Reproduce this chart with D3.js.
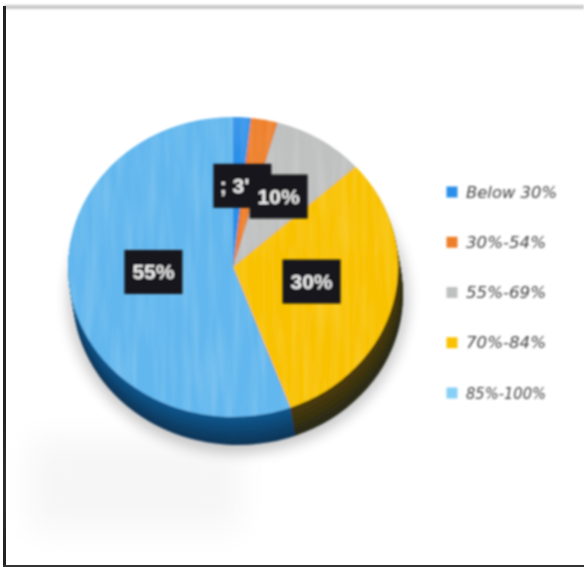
<!DOCTYPE html>
<html><head><meta charset="utf-8">
<script src="https://cdn.jsdelivr.net/npm/d3@7"></script>
<style>html,body{margin:0;padding:0;background:#fff}svg{display:block}</style>
</head><body><div id="c"></div>
<script>
const categories = ["Below 30%","30%-54%","55%-69%","70%-84%","85%-100%"];
const values = [2,3,10,30,55];
const topColors = ["#2b8fe8","#ee7f2a","#bfc1c0","#f9c202","#62b7ee"];
const sideColors = ["#1a5a90","#8a4a15","#6e6e6e","#4f3d06","#12588f"];
const dataLabels = ["","; 3'","10%","30%","55%"];

const W=584,H=567, cx=233, cy=267, rx=165, ry=150, depth=28, skew=5;
const svg=d3.select("#c").append("svg").attr("width",W).attr("height",H);
const defs=svg.append("defs");
const blur=(id,s)=>defs.append("filter").attr("id",id).attr("x","-30%").attr("y","-30%").attr("width","160%").attr("height","160%")
  .append("feGaussianBlur").attr("stdDeviation",s);
blur("b1",1.0); blur("b2",0.9); blur("b8",7); blur("b0",1.0); blur("b16",16);
// printed-paper streak texture
const tex=defs.append("filter").attr("id","streak").attr("x",0).attr("y",0).attr("width","100%").attr("height","100%");
tex.append("feTurbulence").attr("type","fractalNoise").attr("baseFrequency","0.12 0.012").attr("numOctaves",2).attr("seed",4);
tex.append("feColorMatrix").attr("type","matrix").attr("values","0 0 0 0 1  0 0 0 0 1  0 0 0 0 1  1.6 0 0 0 -0.62");
const clip=defs.append("clipPath").attr("id","faceClip");
clip.append("ellipse").attr("cx",cx).attr("cy",cy).attr("rx",rx).attr("ry",ry);

svg.append("rect").attr("width",W).attr("height",H).attr("fill","#fff");
// scanned-paper edges
svg.append("rect").attr("x",4).attr("y",5).attr("width",W-4).attr("height",4).attr("fill","#c9c9c9").attr("filter","url(#b1)");
svg.append("rect").attr("x",3).attr("y",6).attr("width",3).attr("height",H-6).attr("fill","#222");
svg.append("rect").attr("x",3).attr("y",H-2).attr("width",W-3).attr("height",2).attr("fill","#333");
// soft paper shading at lower-left
svg.append("rect").attr("x",30).attr("y",440).attr("width",210).attr("height",90).attr("fill","#f6f6f6").attr("filter","url(#b16)");

// tilted view: angles on the disc are foreshortened by perspective
const tilt=7.5*Math.PI/180;
const warp=a=>a-tilt*Math.sin(a);
const pie=d3.pie().value(d=>d).sort(null);
const arcs=pie(values).map(d=>({...d,startAngle:warp(d.startAngle),endAngle:warp(d.endAngle)}));
const arc=d3.arc().innerRadius(0).outerRadius(rx);
const labelArc=d3.arc().innerRadius(rx*0.98).outerRadius(rx*0.98);
const yr=ry/rx;

// soft ground shadow
svg.append("ellipse").attr("cx",cx+skew).attr("cy",cy+depth+3).attr("rx",rx+5).attr("ry",ry+5)
  .attr("fill","#000").attr("opacity",0.22).attr("filter","url(#b8)");

const pieG=svg.append("g").attr("filter","url(#b2)");
// extruded rim
d3.range(depth,0,-1).forEach(k=>{
  const t=k/depth;
  pieG.append("g").attr("transform",`translate(${cx+skew*t},${cy+k}) scale(1,${yr})`)
    .selectAll("path").data(arcs).join("path").attr("d",arc)
    .attr("fill",(d,i)=>d3.interpolateRgb(sideColors[i],"#06192a")(i===4||i===3?t*0.55:0));
});
// top face
pieG.append("g").attr("transform",`translate(${cx},${cy}) scale(1,${yr})`)
  .selectAll("path").data(arcs).join("path").attr("d",arc).attr("fill",(d,i)=>topColors[i]);
pieG.append("g").attr("clip-path","url(#faceClip)")
  .append("rect").attr("x",cx-rx).attr("y",cy-ry).attr("width",2*rx).attr("height",2*ry)
  .attr("filter","url(#streak)").attr("opacity",0.2);

// data labels
const labG=svg.append("g").attr("filter","url(#b1)");
const nudge=[[0,0],[-6,-9],[3,-8],[0,-3],[0,-8]];
const textDx=[0,-8,0,0,0];
const bw=58,bh=44;
arcs.forEach((d,i)=>{
  if(!dataLabels[i]) return;
  const [mx,my]=labelArc.centroid(d);
  const x=cx+mx*0.5+nudge[i][0], y=cy+my*0.5*yr+nudge[i][1];
  const g=labG.append("g").attr("transform",`translate(${x},${y})`);
  g.append("rect").attr("x",-bw/2).attr("y",-bh/2).attr("width",bw).attr("height",bh).attr("fill","#17171a");
  g.append("text").attr("text-anchor","middle").attr("x",textDx[i]).attr("y",7).attr("fill","#f0f0f0")
   .attr("font-family","Liberation Sans, Arial, sans-serif").attr("font-size",21).attr("font-weight","bold")
   .text(dataLabels[i]);
});

// legend
const legY=d3.scalePoint().domain(categories).range([192,393]);
const leg=svg.append("g").attr("filter","url(#b0)");
const legG=leg.selectAll("g").data(categories).join("g").attr("transform",d=>`translate(452,${legY(d)})`);
legG.append("rect").attr("x",-5.5).attr("y",-5.5).attr("width",11).attr("height",11).attr("fill",(d,i)=>i===4?"#86d0f5":topColors[i]);
legG.append("text").attr("x",14).attr("y",5.5).attr("fill","#444")
  .attr("font-family","DejaVu Sans, sans-serif").attr("font-size",15.5).attr("font-style","italic")
  .attr("textLength",(d,i)=>i===0?91:80).attr("lengthAdjust","spacingAndGlyphs").text(d=>d);
</script></body></html>
